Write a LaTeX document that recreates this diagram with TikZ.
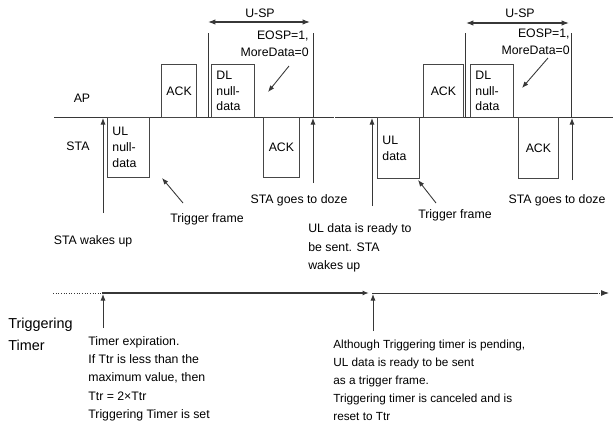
\documentclass[tikz,border=0pt]{standalone}
\usepackage{fontspec}
\setmainfont{Liberation Sans}
\usetikzlibrary{arrows.meta}
\definecolor{linegray}{RGB}{55, 55, 55}
\definecolor{framegray}{RGB}{70, 70, 70}

\begin{document}
\begin{tikzpicture}[x=0.02cm, y=-0.02cm,
    frame/.style={draw=framegray, line width=0.5pt, anchor=north west, inner xsep=0.1cm, inner ysep=0pt, align=left, font=\fontsize{7}{9}\selectfont},
    lbl/.style={font=\fontsize{7}{9}\selectfont, inner sep=0pt},
    note/.style={font=\fontsize{7}{10.4}\selectfont, inner sep=0pt, align=left, anchor=north west},
    tipline/.style={-{Latex[length=1.3mm, width=1mm]}, line width=0.5pt, linegray},
    bothline/.style={{Latex[length=1.5mm, width=1.1mm]}-{Latex[length=1.5mm, width=1.1mm]}, line width=0.6pt, linegray},
    plain/.style={line width=0.5pt, linegray}]
    \useasboundingbox (0,0) rectangle (613,423);

    % Time axis of AP and STA
    \coordinate (axA) at (54,117);
    \coordinate (axB) at (334,117);
    \coordinate (axC) at (335,117);
    \coordinate (axD) at (613,117);
    \draw[plain] (axA) -- (axB);
    \draw[plain] (axC) -- (axD);
    \node[lbl] (ap) at (82,98) {AP};
    \node[lbl] (sta) at (78,146) {STA};

    % First service period
    \node[frame, minimum width=0.84cm, minimum height=1.2cm, text width=0.64cm] (ulnull) at (107,117) {UL\\null-\\data};
    \node[frame, minimum width=0.70cm, minimum height=1.06cm] (ackA) at (161,64) {ACK};
    \node[frame, minimum width=0.86cm, minimum height=1.06cm, text width=0.66cm] (dlnullA) at (211,64) {DL\\null-\\data};
    \node[frame, minimum width=0.72cm, minimum height=1.2cm] (ackB) at (263,117) {ACK};

    \coordinate (uspAtop) at (208,33);
    \coordinate (uspAbot) at (208,117);
    \coordinate (uspBtop) at (313,33);
    \coordinate (uspBbot) at (313,117);
    \draw[plain] (uspAtop) -- (uspAbot);
    \draw[plain] (uspBtop) -- (uspBbot);
    \coordinate (uspAl) at (208,22);
    \coordinate (uspAr) at (310,22);
    \draw[bothline] (uspAl) -- (uspAr);
    \node[lbl] (uspA) at (260,13) {U-SP};
    \node[lbl, align=right, anchor=north east, font=\fontsize{7}{9.6}\selectfont] (eospA) at (309,31) {EOSP=1,\\MoreData=0};
    \coordinate (eospAs) at (289,66);
    \coordinate (eospAe) at (268,92);
    \draw[tipline] (eospAs) -- (eospAe);

    % wake up and doze of the first period
    \coordinate (wakeAbot) at (103,213);
    \coordinate (wakeAtop) at (103,118);
    \draw[tipline] (wakeAbot) -- (wakeAtop);
    \node[lbl] (wakeA) at (93,241) {STA wakes up};
    \coordinate (dozeAbot) at (313,183);
    \coordinate (dozeAtop) at (313,118);
    \draw[tipline] (dozeAbot) -- (dozeAtop);
    \node[lbl] (dozeA) at (299,200) {STA goes to doze};
    \node[lbl] (trigA) at (207,219) {Trigger frame};
    \coordinate (trigAs) at (183,203);
    \coordinate (trigAe) at (162,178);
    \draw[tipline] (trigAs) -- (trigAe);

    % Second service period
    \node[frame, minimum width=0.84cm, minimum height=1.22cm, text width=0.64cm] (uldata) at (377,117) {UL\\data};
    \node[frame, minimum width=0.80cm, minimum height=1.06cm] (ackC) at (423,64) {ACK};
    \node[frame, minimum width=0.86cm, minimum height=1.06cm, text width=0.66cm] (dlnullB) at (470,64) {DL\\null-\\data};
    \node[frame, minimum width=0.80cm, minimum height=1.22cm] (ackD) at (518,117) {ACK};

    \coordinate (uspCtop) at (465,33);
    \coordinate (uspCbot) at (465,117);
    \coordinate (uspDtop) at (571,33);
    \coordinate (uspDbot) at (571,117);
    \draw[plain] (uspCtop) -- (uspCbot);
    \draw[plain] (uspDtop) -- (uspDbot);
    \coordinate (uspCl) at (466,23);
    \coordinate (uspCr) at (569,23);
    \draw[bothline] (uspCl) -- (uspCr);
    \node[lbl] (uspC) at (520,13) {U-SP};
    \node[lbl, align=right, anchor=north east, font=\fontsize{7}{9.2}\selectfont] (eospC) at (570,29) {EOSP=1,\\MoreData=0};
    \coordinate (eospCs) at (548,58);
    \coordinate (eospCe) at (522,88);
    \draw[tipline] (eospCs) -- (eospCe);

    % wake up and doze of the second period
    \coordinate (wakeCbot) at (372,206);
    \coordinate (wakeCtop) at (372,118);
    \draw[tipline] (wakeCbot) -- (wakeCtop);
    \node[note, font=\fontsize{7}{10.7}\selectfont] (wakeC) at (308,223) {UL data is ready to\\be sent. STA\\wakes up};
    \coordinate (dozeCbot) at (572,180);
    \coordinate (dozeCtop) at (572,118);
    \draw[tipline] (dozeCbot) -- (dozeCtop);
    \node[lbl] (dozeC) at (557,200) {STA goes to doze};
    \node[lbl] (trigC) at (455,215) {Trigger frame};
    \coordinate (trigCs) at (436,203);
    \coordinate (trigCe) at (418,180);
    \draw[tipline] (trigCs) -- (trigCe);

    % Triggering timer
    \node[note, font=\fontsize{8.2}{12.2}\selectfont] (timer) at (8,318) {Triggering\\Timer};
    \coordinate (tmA) at (53,293);
    \coordinate (tmB) at (102,293);
    \coordinate (tmC) at (369,293);
    \coordinate (tmD) at (372,293);
    \coordinate (tmE) at (594,293);
    \coordinate (tmG) at (609,293);
    \draw[plain, densely dotted] (tmA) -- (tmB);
    \draw[tipline, line width=1pt] (tmB) -- (tmC);
    \draw[plain] (tmD) -- (tmE);
    \draw[plain, dash pattern=on 2pt off 1pt on 0.5pt off 1pt, -{Latex[length=1.6mm, width=1.2mm]}] (tmE) -- (tmG);

    \coordinate (expbot) at (103,328);
    \coordinate (exptop) at (103,294);
    \draw[tipline] (expbot) -- (exptop);
    \node[note] (expire) at (88,336) {Timer expiration.\\If Ttr is less than the\\maximum value, then\\Ttr = 2×Ttr\\Triggering Timer is set};
    \coordinate (penbot) at (373,331);
    \coordinate (pentop) at (373,294);
    \draw[tipline] (penbot) -- (pentop);
    \node[note, font=\fontsize{6.7}{10.2}\selectfont] (pending) at (333,340) {Although Triggering timer is pending,\\UL data is ready to be sent\\as a trigger frame.\\Triggering timer is canceled and is\\reset to Ttr};
\end{tikzpicture}
\end{document}
